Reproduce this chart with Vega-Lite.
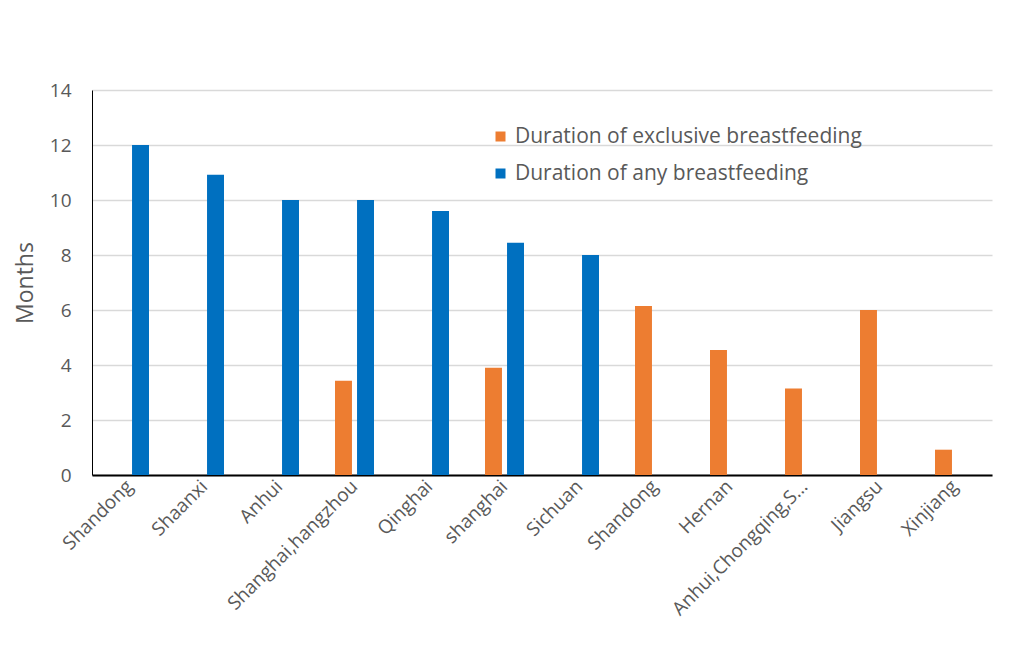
{
  "$schema": "https://vega.github.io/schema/vega-lite/v6.json",
  "width": 900,
  "height": 385,
  "autosize": "none",
  "padding": {"left": 92, "top": 90, "right": 32, "bottom": 181},
  "background": "white",
  "config": {
    "font": "Open Sans",
    "view": {"stroke": null}
  },
  "data": {
    "values": [
      {"key": "01 Shandong", "series": "Duration of any breastfeeding", "months": 12.0},
      {"key": "02 Shaanxi", "series": "Duration of any breastfeeding", "months": 10.92},
      {"key": "03 Anhui", "series": "Duration of any breastfeeding", "months": 10.0},
      {"key": "04 Shanghai,hangzhou", "series": "Duration of exclusive breastfeeding", "months": 3.43},
      {"key": "04 Shanghai,hangzhou", "series": "Duration of any breastfeeding", "months": 10.0},
      {"key": "05 Qinghai", "series": "Duration of any breastfeeding", "months": 9.6},
      {"key": "06 shanghai", "series": "Duration of exclusive breastfeeding", "months": 3.9},
      {"key": "06 shanghai", "series": "Duration of any breastfeeding", "months": 8.45},
      {"key": "07 Sichuan", "series": "Duration of any breastfeeding", "months": 8.0},
      {"key": "08 Shandong", "series": "Duration of exclusive breastfeeding", "months": 6.15},
      {"key": "09 Hernan", "series": "Duration of exclusive breastfeeding", "months": 4.55},
      {"key": "10 Anhui,Chongqing,S…", "series": "Duration of exclusive breastfeeding", "months": 3.15},
      {"key": "11 Jiangsu", "series": "Duration of exclusive breastfeeding", "months": 6.0},
      {"key": "12 Xinjiang", "series": "Duration of exclusive breastfeeding", "months": 0.92}
    ]
  },
  "mark": {"type": "bar"},
  "encoding": {
    "x": {
      "field": "key",
      "type": "nominal",
      "sort": "ascending",
      "scale": {"paddingInner": 0.48, "paddingOuter": 0.24},
      "axis": {
        "title": null,
        "labelExpr": "substring(datum.label, 3)",
        "labelAngle": -45,
        "labelAlign": "right",
        "labelBaseline": "middle",
        "labelFontSize": 19,
        "labelColor": "#595959",
        "labelPadding": 8,
        "labelLimit": 400,
        "labelOverlap": false,
        "ticks": false,
        "domainColor": "#000000",
        "domainWidth": 2,
        "grid": false
      }
    },
    "xOffset": {
      "field": "series",
      "type": "nominal",
      "sort": ["Duration of exclusive breastfeeding", "Duration of any breastfeeding"],
      "scale": {"paddingInner": 0.23, "paddingOuter": 0}
    },
    "y": {
      "field": "months",
      "type": "quantitative",
      "scale": {"domain": [0, 14], "nice": false},
      "axis": {
        "title": "Months",
        "titleFontSize": 23,
        "titleFontWeight": "normal",
        "titleColor": "#595959",
        "titlePadding": 12,
        "values": [0, 2, 4, 6, 8, 10, 12, 14],
        "labelFontSize": 19,
        "labelColor": "#595959",
        "labelPadding": 21,
        "ticks": false,
        "domainColor": "#000000",
        "domainWidth": 1,
        "gridColor": "#D9D9D9",
        "gridWidth": 1.5
      }
    },
    "color": {
      "field": "series",
      "type": "nominal",
      "scale": {
        "domain": ["Duration of exclusive breastfeeding", "Duration of any breastfeeding"],
        "range": ["#ED7D31", "#0070C0"]
      },
      "legend": {
        "title": null,
        "orient": "none",
        "legendX": 398,
        "legendY": 36,
        "symbolType": "square",
        "symbolSize": 100,
        "symbolStrokeWidth": 0,
        "labelFontSize": 21,
        "labelColor": "#595959",
        "labelLimit": 500,
        "rowPadding": 15,
        "labelOffset": 4
      }
    }
  }
}
